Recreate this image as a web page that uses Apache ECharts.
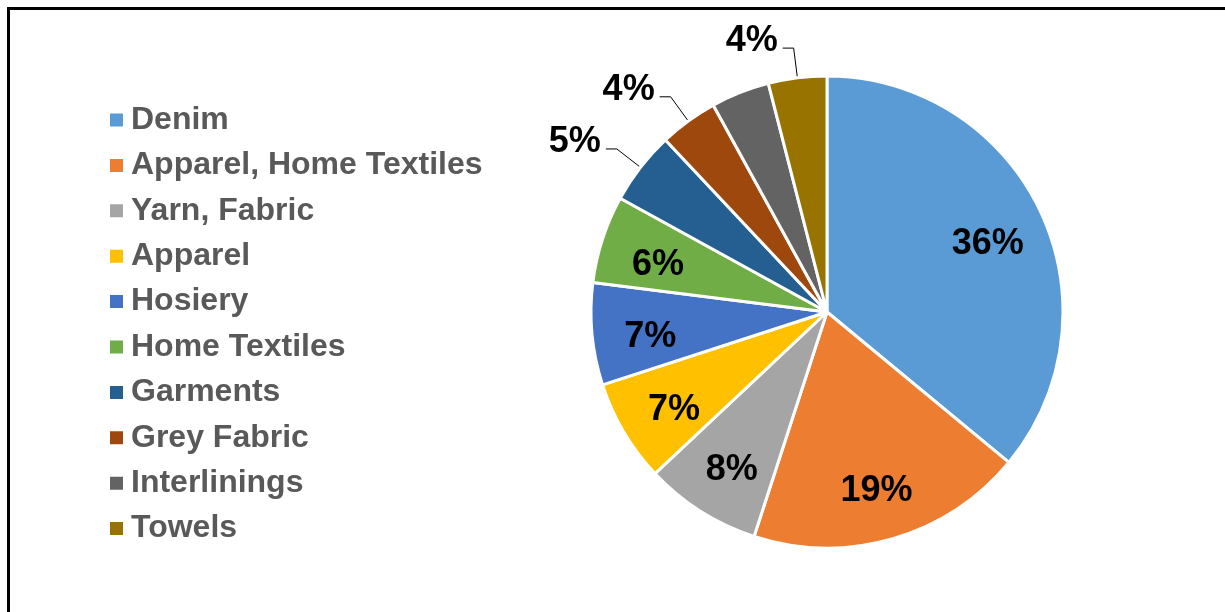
<!DOCTYPE html>
<html>
<head>
<meta charset="utf-8">
<script src="https://cdn.jsdelivr.net/npm/echarts@6/dist/echarts.min.js"></script>
<style>
  html, body { margin: 0; padding: 0; background: #fff; }
  #chart { width: 1225px; height: 612px; }
</style>
</head>
<body>
<div id="chart"></div>
<script>
// Fabric segments and their share (%)
const categories = ['Denim', 'Apparel, Home Textiles', 'Yarn, Fabric', 'Apparel', 'Hosiery',
  'Home Textiles', 'Garments', 'Grey Fabric', 'Interlinings', 'Towels'];
const shares = [36, 19, 8, 7, 7, 6, 5, 4, 4, 4];
const colors = ['#5B9BD5', '#ED7D31', '#A5A5A5', '#FFC000', '#4472C4',
  '#70AD47', '#255E91', '#9E480E', '#636363', '#997300'];
// Segments whose percentage sits outside the pie on a leader line
const outsideLabelled = ['Garments', 'Grey Fabric', 'Towels'];
// Segments drawn without a percentage label
const unlabelled = ['Interlinings'];

const center = [827, 312];
const radius = 236;
const FONT = 'Liberation Sans, Arial, sans-serif';
const labelFont = { fontFamily: FONT, fontWeight: 'bold', fontSize: 36, color: '#000' };

const pieData = categories.map((name, i) => {
  const outside = outsideLabelled.includes(name);
  return {
    name,
    value: shares[i],
    itemStyle: { color: colors[i] },
    label: { show: outside },
    labelLine: { show: outside }
  };
});

const labelRingData = categories.map((name, i) => {
  const inside = !outsideLabelled.includes(name) && !unlabelled.includes(name);
  return { name, value: shares[i], label: { show: inside } };
});

const chart = echarts.init(document.getElementById('chart'), null, { renderer: 'canvas' });
chart.setOption({
  backgroundColor: '#fff',
  animation: false,
  color: colors,
  legend: {
    orient: 'vertical',
    left: 108,
    top: 104,
    padding: 0,
    icon: 'rect',
    itemWidth: 15,
    itemHeight: 15,
    itemGap: 13.4,
    data: categories,
    textStyle: {
      fontFamily: FONT,
      fontWeight: 'bold',
      fontSize: 32,
      lineHeight: 32,
      color: '#595959',
      padding: [0, 0, 0, 2]
    }
  },
  graphic: [
    { type: 'rect', shape: { x: 7, y: 7, width: 1218, height: 3 }, style: { fill: '#000' }, silent: true },
    { type: 'rect', shape: { x: 7, y: 7, width: 3, height: 605 }, style: { fill: '#000' }, silent: true }
  ],
  series: [
    {
      name: 'share',
      type: 'pie',
      center,
      radius: [0, radius],
      startAngle: 90,
      clockwise: true,
      avoidLabelOverlap: false,
      itemStyle: { borderColor: '#fff', borderWidth: 3 },
      emphasis: { disabled: true },
      label: {
        position: 'outside',
        formatter: '{v|{c}%}\n{s|}',
        distanceToLabelLine: 5,
        rich: {
          v: Object.assign({ lineHeight: 36 }, labelFont),
          s: { fontSize: 10, lineHeight: 14 }
        }
      },
      labelLine: { length: 30, length2: 11, lineStyle: { color: '#000', width: 1 } },
      data: pieData
    },
    {
      name: 'labels',
      type: 'pie',
      center,
      radius: [radius * 0.5, radius * 0.98],
      startAngle: 90,
      clockwise: true,
      silent: true,
      legendHoverLink: false,
      emphasis: { disabled: true },
      itemStyle: { color: 'rgba(0,0,0,0)', borderWidth: 0 },
      label: {
        position: 'inside',
        formatter: '{s|}\n{v|{c}%}',
        rich: {
          v: Object.assign({ lineHeight: 36 }, labelFont),
          s: { fontSize: 10, lineHeight: 16 }
        }
      },
      labelLine: { show: false },
      data: labelRingData
    }
  ]
});
</script>
</body>
</html>
